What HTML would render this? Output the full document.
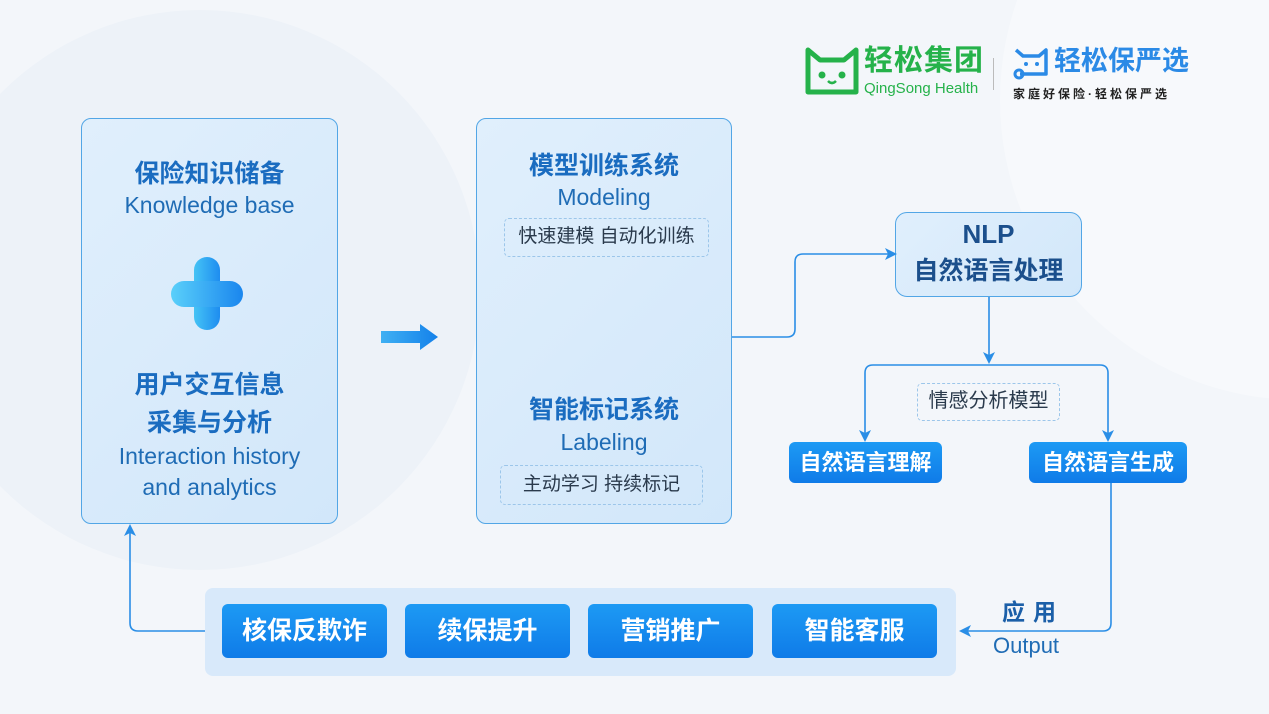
<!DOCTYPE html>
<html><head><meta charset="utf-8">
<style>
*{margin:0;padding:0;box-sizing:border-box}
body{width:1269px;height:714px;overflow:hidden;position:relative;background:#f3f6fa;font-family:"Liberation Sans","Noto Sans CJK SC",sans-serif}
.a{position:absolute}
.t{position:absolute;left:0;right:0;text-align:center;white-space:nowrap;line-height:1}
.cn{font-weight:bold;font-size:25px;color:#1a6cc0}
.en{font-size:23px;color:#1f6cb5}
.box{position:absolute;border:1.5px solid #52a6e6;border-radius:10px;background:linear-gradient(135deg,#e0effc,#d2e7fa)}
.dash{position:absolute;border:1.5px dashed #9cc6ea;border-radius:5px;font-size:19px;color:#2a3a4c;text-align:center;white-space:nowrap}
.btn{position:absolute;border-radius:6px;background:linear-gradient(180deg,#1d9af4,#0f7be8);color:#fff;font-weight:bold;text-align:center;white-space:nowrap}
</style></head><body>
<div class="a" style="left:-80px;top:10px;width:560px;height:560px;border-radius:50%;background:#edf2f8"></div>
<div class="a" style="left:1000px;top:-200px;width:600px;height:600px;border-radius:50%;background:#f7f9fc"></div>

<!-- logo -->
<svg class="a" style="left:804px;top:46px" width="56" height="52" viewBox="0 0 56 52">
<path d="M4 4 L16 14 H40 L52 4 V46 H4 Z" fill="none" stroke="#25b24a" stroke-width="5" stroke-linejoin="round"/>
<circle cx="18" cy="29" r="3.5" fill="#25b24a"/><circle cx="38" cy="29" r="3.5" fill="#25b24a"/>
<path d="M24 35 q4 4 8 0" fill="none" stroke="#25b24a" stroke-width="2.5"/>
</svg>
<div class="a" style="left:864px;top:46px;font-size:29px;font-weight:bold;color:#25b24a;letter-spacing:1px;line-height:1.1">轻松集团</div>
<div class="a" style="left:864px;top:80px;font-size:15px;color:#25b24a">QingSong Health</div>
<div class="a" style="left:993px;top:58px;width:1px;height:32px;background:#bbb"></div>
<svg class="a" style="left:1012px;top:46px" width="38" height="34" viewBox="0 0 38 34">
<path d="M4 4 L11 10 H27 L34 4 V28 H8" fill="none" stroke="#2b8ae6" stroke-width="3.5" stroke-linejoin="round"/>
<circle cx="7" cy="28" r="4" fill="none" stroke="#2b8ae6" stroke-width="3"/>
<circle cx="14" cy="18" r="2" fill="#2b8ae6"/><circle cx="25" cy="18" r="2" fill="#2b8ae6"/>
</svg>
<div class="a" style="left:1054px;top:47px;font-size:27px;font-weight:bold;color:#2b8ae6;line-height:1.1">轻松保严选</div>
<div class="a" style="left:1013px;top:85px;font-size:12px;font-weight:bold;color:#222;letter-spacing:3px">家庭好保险·轻松保严选</div>

<!-- left box -->
<div class="box" style="left:81px;top:118px;width:257px;height:406px">
<div class="t cn" style="top:43px">保险知识储备</div>
<div class="t en" style="top:75px">Knowledge base</div>
<div class="t cn" style="top:254px">用户交互信息</div>
<div class="t cn" style="top:292px">采集与分析</div>
<div class="t en" style="top:326px">Interaction history</div>
<div class="t en" style="top:357px">and analytics</div>
</div>
<div class="a" style="left:171px;top:257px;width:72px;height:73px">
<div class="a" style="left:23px;top:0;width:26px;height:73px;border-radius:13px;background:linear-gradient(90deg,#45c3f5,#1e8df0)"></div>
<div class="a" style="left:0;top:24px;width:72px;height:26px;border-radius:13px;background:linear-gradient(90deg,#5ad0fa,#1a86ee)"></div>
</div>

<svg class="a" style="left:378px;top:322px" width="64" height="32"><defs><linearGradient id="g1"><stop offset="0" stop-color="#3fb0f3"/><stop offset="1" stop-color="#1481ea"/></linearGradient></defs>
<path d="M3 9 H42 V2 L60 15 L42 28 V21 H3 Z" fill="url(#g1)"/></svg>

<!-- middle box -->
<div class="box" style="left:476px;top:118px;width:256px;height:406px">
<div class="t cn" style="top:35px">模型训练系统</div>
<div class="t en" style="top:67px">Modeling</div>
<div class="t cn" style="top:279px">智能标记系统</div>
<div class="t en" style="top:312px">Labeling</div>
</div>
<div class="dash" style="left:504px;top:218px;width:205px;height:39px;line-height:36px">快速建模 自动化训练</div>
<div class="dash" style="left:500px;top:465px;width:203px;height:40px;line-height:37px">主动学习 持续标记</div>

<!-- NLP -->
<div class="box" style="left:895px;top:212px;width:187px;height:85px;border-radius:12px">
<div class="t" style="top:8px;font-size:26px;font-weight:bold;color:#1b4f8c">NLP</div>
<div class="t" style="top:46px;font-size:25px;font-weight:bold;color:#1b4f8c">自然语言处理</div>
</div>
<div class="dash" style="left:917px;top:383px;width:143px;height:38px;line-height:35px;font-size:20px">情感分析模型</div>
<div class="btn" style="left:789px;top:442px;width:153px;height:41px;line-height:41px;font-size:22px">自然语言理解</div>
<div class="btn" style="left:1029px;top:442px;width:158px;height:41px;line-height:41px;font-size:22px">自然语言生成</div>

<!-- bottom -->
<div class="a" style="left:205px;top:588px;width:751px;height:88px;border-radius:8px;background:#d8e9fa"></div>
<div class="btn" style="left:222px;top:604px;width:165px;height:54px;line-height:54px;font-size:25px">核保反欺诈</div>
<div class="btn" style="left:405px;top:604px;width:165px;height:54px;line-height:54px;font-size:25px">续保提升</div>
<div class="btn" style="left:588px;top:604px;width:165px;height:54px;line-height:54px;font-size:25px">营销推广</div>
<div class="btn" style="left:772px;top:604px;width:165px;height:54px;line-height:54px;font-size:25px">智能客服</div>
<div class="a" style="left:1002px;top:601px;font-size:23px;font-weight:bold;color:#1b5fa8;letter-spacing:8px;line-height:1">应用</div>
<div class="a" style="left:993px;top:635px;font-size:22px;color:#1f6cb5;line-height:1">Output</div>

<svg class="a" style="left:0;top:0" width="1269" height="714">
<g fill="none" stroke="#2a8ee6" stroke-width="1.6">
<path d="M732 337 H787 q8 0 8 -8 V262 q0 -8 8 -8 H890"/>
<path d="M989 297 V358"/>
<path d="M865 436 V373 q0 -8 8 -8 H1100 q8 0 8 8 V436"/>
<path d="M1111 483 V623 q0 8 -8 8 H966"/>
<path d="M205 631 H138 q-8 0 -8 -8 V530"/>
</g>
<g fill="#2a8ee6">
<path d="M897 254 L885 248 L888 254 L885 260 Z"/>
<path d="M989 364 L983 352 L989 355 L995 352 Z"/>
<path d="M865 442 L859 430 L865 433 L871 430 Z"/>
<path d="M1108 442 L1102 430 L1108 433 L1114 430 Z"/>
<path d="M959 631 L971 625 L968 631 L971 637 Z"/>
<path d="M130 524 L124 536 L130 533 L136 536 Z"/>
</g>
</svg>
</body></html>
